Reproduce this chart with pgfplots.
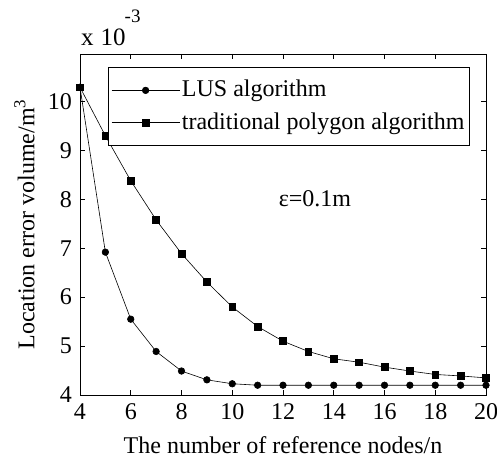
\documentclass[border=0pt]{standalone}
\usepackage{pgfplots}
\pgfplotsset{compat=1.18}
\usepackage{fontspec}
\setmainfont{Liberation Serif}
\begin{document}
\fontsize{24}{28}\selectfont
\begin{tikzpicture}
\begin{axis}[
  name=ax,
  scale only axis,
  width=406pt, height=341pt,
  xmin=4, xmax=20, ymin=4, ymax=10.97,
  xtick={4,6,...,20}, ytick={4,5,...,10},
  tick align=inside, major tick length=5pt,
  xtick pos=both, ytick pos=both,
  /pgf/number format/assume math mode=true,
  tick label style={font=\fontsize{24}{28}\selectfont},
  label style={font=\fontsize{24}{28}\selectfont},
  xlabel={The number of reference nodes/n},
  ylabel={Location error volume/m\textsuperscript{3}},
  xlabel style={yshift=-1pt},
  ylabel style={yshift=-3pt},
  axis line style={line width=0.8pt},
  every tick/.style={black, line width=0.6pt},
  legend style={at={(rel axis cs:0.069,0.962)}, anchor=north west, draw=black, line width=0.6pt, fill=white,
    font=\fontsize{24}{28}\selectfont, row sep=8pt, inner xsep=3pt, inner ysep=11pt},
  legend cell align=left,
  legend image code/.code={\draw[mark repeat=2,mark phase=2,#1] plot coordinates {(0pt,0pt) (34pt,0pt) (68pt,0pt)};},
  clip=false,
]
\addplot[black, line width=0.6pt, mark=*, mark size=3.3pt] coordinates {
(4,10.29) (5,6.92) (6,5.55) (7,4.89) (8,4.49) (9,4.31) (10,4.23) (11,4.20) (12,4.20) (13,4.20)
(14,4.20) (15,4.20) (16,4.20) (17,4.20) (18,4.20) (19,4.20) (20,4.20)};
\addlegendentry{LUS algorithm}
\addplot[black, line width=0.6pt, mark=square*, mark size=3.4pt] coordinates {
(4,10.29) (5,9.30) (6,8.38) (7,7.58) (8,6.89) (9,6.31) (10,5.80) (11,5.40) (12,5.10) (13,4.89)
(14,4.74) (15,4.67) (16,4.57) (17,4.49) (18,4.42) (19,4.39) (20,4.35)};
\addlegendentry{traditional polygon algorithm}
\node at (axis cs:13.26,8.02) {ε=0.1m};
\node[anchor=base west, inner sep=0pt] at ([yshift=8pt,xshift=1pt]rel axis cs:0,1) {\fontsize{25}{28}\selectfont x\hspace{7pt}10\kern-1pt\raisebox{23pt}{\fontsize{19}{20}\selectfont -3}};
\end{axis}
\pgfresetboundingbox
\path[use as bounding box] ([xshift=-80pt,yshift=-64pt]ax.south west) rectangle ([xshift=11pt,yshift=54pt]ax.north east);
\end{tikzpicture}
\end{document}
